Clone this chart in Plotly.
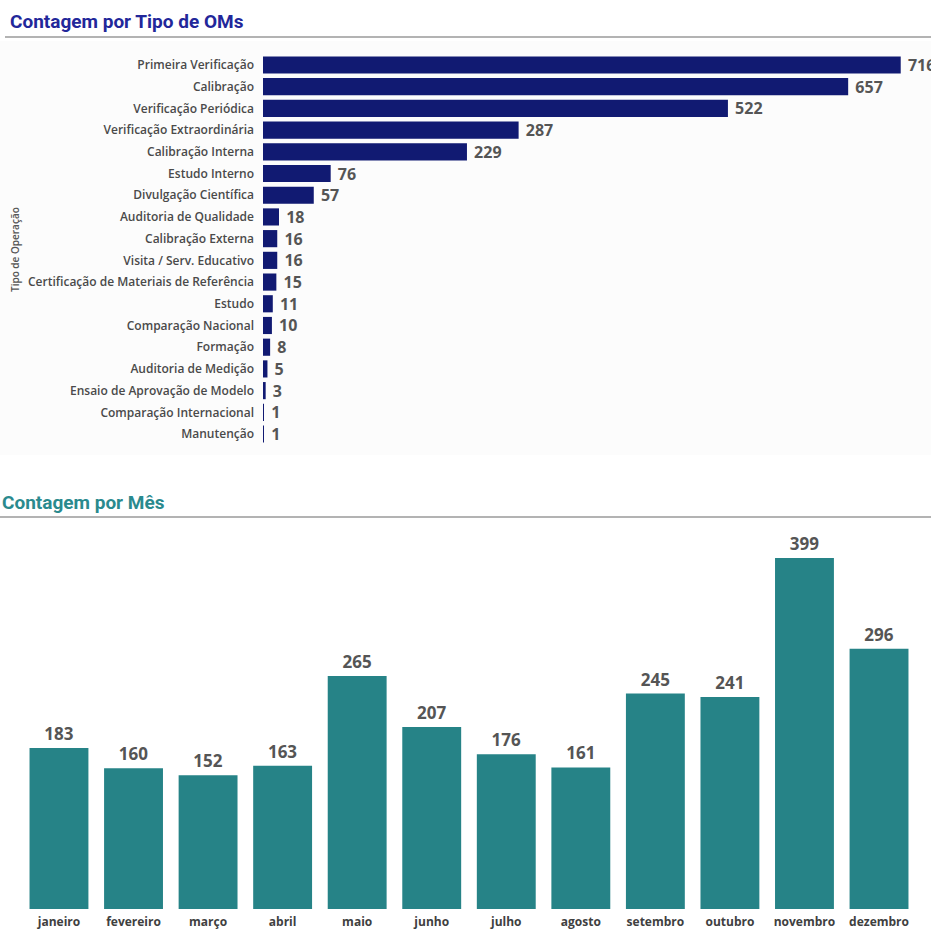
import plotly.graph_objects as go

# Contagem por tipo de operação (OMs)
tipos = [
    "Primeira Verificação", "Calibração", "Verificação Periódica",
    "Verificação Extraordinária", "Calibração Interna", "Estudo Interno",
    "Divulgação Científica", "Auditoria de Qualidade", "Calibração Externa",
    "Visita / Serv. Educativo", "Certificação de Materiais de Referência",
    "Estudo", "Comparação Nacional", "Formação", "Auditoria de Medição",
    "Ensaio de Aprovação de Modelo", "Comparação Internacional", "Manutenção",
]
contagem_tipo = [716, 657, 522, 287, 229, 76, 57, 18, 16, 16, 15, 11, 10, 8, 5, 3, 1, 1]

# Contagem por mês
meses = ["janeiro", "fevereiro", "março", "abril", "maio", "junho",
         "julho", "agosto", "setembro", "outubro", "novembro", "dezembro"]
contagem_mes = [183, 160, 152, 163, 265, 207, 176, 161, 245, 241, 399, 296]

W, H = 931, 935
NAVY = "#111a72"
TEAL = "#268387"
LABEL = "#555555"
FONT = "Open Sans, Noto Sans, sans-serif"
TITLE_FONT = "Roboto, Noto Sans, sans-serif"


def py(px):
    """Pixel row from the top -> paper y."""
    return 1 - px / H


def px_(x):
    return x / W


fig = go.Figure()

fig.add_trace(go.Bar(
    x=contagem_tipo, y=tipos, orientation="h",
    marker=dict(color=NAVY, line=dict(width=0)),
    text=contagem_tipo, texttemplate="\u00a0%{x}",
    textposition="outside", cliponaxis=False, constraintext="none",
    textfont=dict(family=FONT, size=16, color=LABEL, weight="bold"),
    xaxis="x", yaxis="y", hoverinfo="x+y",
))

fig.add_trace(go.Bar(
    x=meses, y=contagem_mes,
    marker=dict(color=TEAL, line=dict(width=0)),
    text=contagem_mes, textposition="outside", cliponaxis=False,
    constraintext="none",
    textfont=dict(family=FONT, size=17, color=LABEL, weight="bold"),
    xaxis="x2", yaxis="y2", hoverinfo="x+y",
))

fig.update_layout(
    width=W, height=H,
    margin=dict(l=0, r=0, t=0, b=0),
    paper_bgcolor="white", plot_bgcolor="rgba(0,0,0,0)",
    showlegend=False, bargap=0.21,
    font=dict(family=FONT),
    xaxis=dict(domain=[px_(263), 1], range=[0, 750], visible=False, fixedrange=True),
    yaxis=dict(
        domain=[py(444.9), py(54.1)], autorange="reversed",
        showgrid=False, zeroline=False, showline=False, ticks="",
        ticklabelstandoff=8,
        tickfont=dict(family=FONT, size=12, color="#4a4a4a", weight=600),
        anchor="x",
    ),
    xaxis2=dict(
        domain=[px_(21.7), px_(916.3)], anchor="y2",
        showgrid=False, zeroline=False, showline=False, ticks="",
        ticklabelstandoff=4,
        tickfont=dict(family=FONT, size=12, color="#404040", weight="bold"),
    ),
    yaxis2=dict(domain=[py(909), py(522)], range=[0, 440], visible=False, anchor="x2"),
    shapes=[
        # painel levemente acinzentado do gráfico superior
        dict(type="rect", xref="paper", yref="paper",
             x0=0, x1=1, y0=py(455), y1=py(41),
             fillcolor="#fcfcfc", line=dict(width=0), layer="below"),
        dict(type="line", xref="paper", yref="paper",
             x0=px_(5), x1=1, y0=py(37), y1=py(37),
             line=dict(color="#9a9a9a", width=1.5)),
        dict(type="line", xref="paper", yref="paper",
             x0=0, x1=1, y0=py(517), y1=py(517),
             line=dict(color="#9a9a9a", width=1.5)),
    ],
    annotations=[
        dict(text="Contagem por Tipo de OMs", xref="paper", yref="paper",
             x=px_(8), y=py(21), xanchor="left", yanchor="middle", showarrow=False,
             font=dict(family=TITLE_FONT, size=19, color="#22279a", weight="bold")),
        dict(text="Contagem por Mês", xref="paper", yref="paper",
             x=px_(0), y=py(502), xanchor="left", yanchor="middle", showarrow=False,
             font=dict(family=TITLE_FONT, size=19, color="#2a8a8e", weight="bold")),
        dict(text="Tipo de Operação", xref="paper", yref="paper",
             x=px_(15), y=py(250), xanchor="center", yanchor="middle", showarrow=False,
             textangle=-90,
             font=dict(family=FONT, size=10, color="#555555", weight=600)),
    ],
)

fig.write_html("out.html")
